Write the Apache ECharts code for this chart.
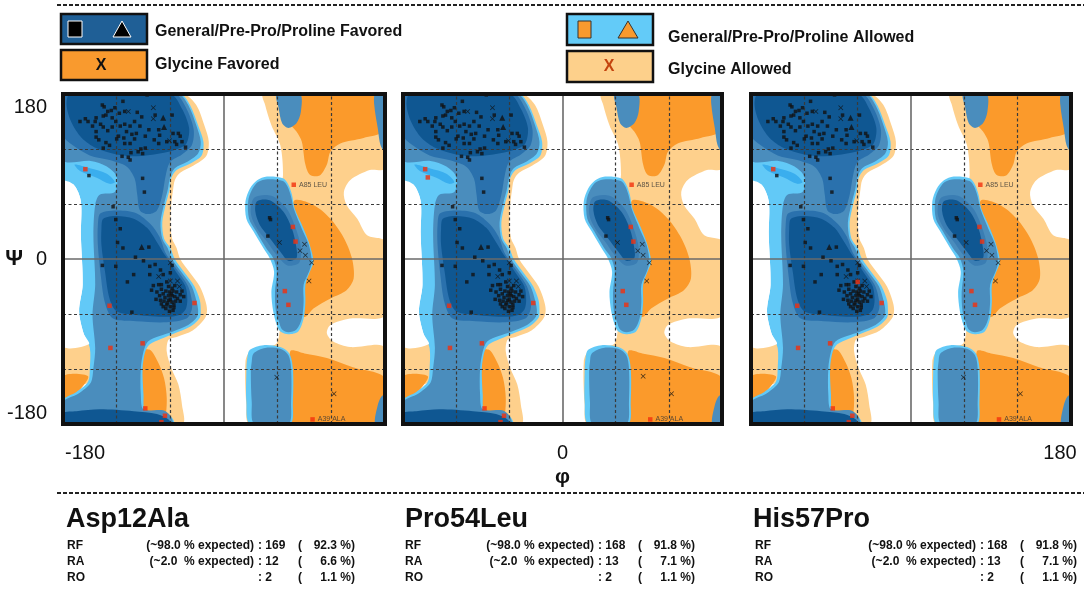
<!DOCTYPE html>
<html><head><meta charset="utf-8">
<script src="https://cdn.jsdelivr.net/npm/echarts@6/dist/echarts.min.js"></script>
<style>html,body{margin:0;padding:0;background:#fff}#c{width:1084px;height:589px}</style>
</head><body><div id="c"></div>
<script>
// ---------------- DATA (phi, psi in degrees) ----------------
const panelNames = ['Asp12Ala', 'Pro54Leu', 'His57Pro'];
const psiTickLabels = { '180': '180', '0': '0', '-180': '-180' };
const phiTickLabels = [{ '-180': '-180' }, { '0': '0' }, { '180': '180' }];

// Contour regions (shared by the three plots)
const glyAllowedRight = [[44,180],[180,180],[180,99],[163,97],[141,86],[134,73],[137,59],[149,44],[160,26],[180,19],[180,-61],[141,-65],[119,-72],[115,-81],[122,-90],[141,-96],[180,-97],[180,-180],[29,-180],[25,-159],[24,-112],[29,-101],[44,-96],[59,-92],[63,-65],[66,8],[63,73],[66,92],[63,124],[53,146],[46,168]];
const glyAllowedLeft = [[-44,180],[-31,168],[-22,146],[-17,128],[-20,112],[-34,102],[-49,94],[-55,86],[-57,75],[-59,60],[-60,40],[-58,22],[-53,12],[-49,0],[-38,-15],[-27,-30],[-21,-45],[-19,-55],[-21,-64],[-35,-78],[-53,-85],[-62,-88],[-64,-101],[-59,-119],[-51,-137],[-47,-159],[-46,-180],[-80,-180],[-85,-140],[-90,-100],[-70,-84],[-45,-72],[-35,-55],[-40,-35],[-55,-12],[-68,10],[-75,40],[-70,75],[-62,95],[-40,108],[-33,130],[-38,150],[-48,170],[-56,180]];
const glyAllowedBottomLeft = [[-180,-94],[-150,-92],[-147,-132],[-180,-136]];
const glyFavoredBottomLeft = [[-180,-128],[-152,-128],[-164,-146],[-180,-158]];
const glyFavoredBottomMid = [[-94,-101],[-83,-99],[-74,-112],[-67,-130],[-64,-152],[-66,-174],[-72,-180],[-90,-180],[-95,-137]];
const glyFavoredRightTop = [[68,180],[176,180],[176,139],[156,132],[130,126],[119,117],[115,103],[107,91],[96,92],[91,103],[87,128],[81,139],[72,150],[68,168]];
const glyFavoredRightMid = [[78,63],[100,59],[119,44],[134,23],[143,1],[145,-21],[137,-34],[119,-43],[100,-54],[91,-63],[78,-61],[74,8]];
const glyFavoredRightBottom = [[74,-101],[90,-103],[115,-108],[144,-118],[180,-130],[180,-180],[74,-180]];

const genAllowedLeft = [[-180,180],[-49,180],[-38,168],[-29,146],[-23,128],[-25,113],[-38,104],[-53,97],[-59,88],[-61,75],[-65,60],[-69,40],[-67,22],[-60,12],[-55,0],[-44,-15],[-33,-30],[-27,-45],[-26,-55],[-27,-64],[-38,-74],[-55,-81],[-70,-87],[-83,-93],[-88,-101],[-91,-119],[-90,-148],[-88,-165],[-68,-167],[-59,-172],[-56,-180],[-180,-180],[-180,-154],[-165,-145],[-152,-134],[-150,-119],[-150,-97],[-157,-81],[-162,-57],[-158,-28],[-160,26],[-160,63],[-168,81],[-180,84]];
const disallowedLeft = [[-180,84],[-168,81],[-160,63],[-160,26],[-158,-28],[-162,-57],[-157,-81],[-151,-93],[-180,-94]];
const genAllowedBright = [[-167,103],[-150,99],[-131,93],[-122,84],[-128,82],[-143,89],[-161,96]];
const genAllowedRight = [[48,90],[66,88],[72,81],[76,70],[79,55],[89,33],[96,15],[100,-3],[96,-14],[91,-28],[91,-47],[89,-65],[83,-79],[72,-82],[63,-79],[59,-72],[55,-57],[53,-36],[56,-14],[51,1],[44,12],[33,30],[25,44],[24,63],[29,77],[37,86]];
const genAllowedRightBottom = [[29,-99],[44,-94],[63,-96],[73,-103],[77,-119],[77,-156],[74,-180],[29,-180],[25,-156],[25,-123],[26,-108]];

const genMidLeft = [[-180,180],[-51,180],[-40,168],[-31,146],[-26,128],[-29,115],[-41,106],[-55,99],[-60,90],[-63,75],[-67,60],[-71,40],[-69,22],[-63,12],[-58,0],[-47,-15],[-36,-30],[-31,-45],[-29,-55],[-30,-63],[-40,-72],[-57,-79],[-72,-84],[-85,-90],[-90,-101],[-93,-119],[-93,-148],[-90,-164],[-68,-165],[-60,-171],[-58,-180],[-180,-180],[-180,-156],[-163,-147],[-149,-135],[-146,-119],[-144,-97],[-147,-61],[-144,-28],[-146,26],[-144,59],[-139,70],[-122,73],[-120,90],[-131,101],[-149,107],[-180,108]];
const genMidRight = [[49,87],[66,85],[71,79],[75,68],[78,55],[87,33],[95,15],[98,-3],[95,-14],[89,-28],[89,-47],[87,-65],[81,-77],[72,-80],[65,-77],[62,-70],[58,-57],[57,-36],[59,-14],[55,1],[47,12],[36,30],[28,44],[27,63],[31,75],[38,84]];
const genMidRightBottom = [[33,-103],[46,-97],[63,-98],[72,-105],[75,-119],[75,-156],[72,-180],[34,-180],[31,-156],[30,-123],[31,-112]];
const genMidTopBlob = [[59,180],[85,180],[86,161],[81,148],[72,143],[65,148],[61,165]];
const genMidEdgeTop = [[169,180],[180,180],[180,117],[175,124],[172,142],[168,168]];
const genMidEdgeBottom = [[180,-148],[180,-180],[169,-180],[172,-159],[176,-150]];

const genCoreLeftTop = [[-180,180],[-55,180],[-43,166],[-34,142],[-36,124],[-47,114],[-60,106],[-65,92],[-69,70],[-75,53],[-85,49],[-94,53],[-97,70],[-100,88],[-109,101],[-128,108],[-150,113],[-169,124],[-180,135]];
const genCoreLeftAlpha = [[-138,50],[-118,53],[-98,50],[-82,38],[-72,24],[-66,8],[-61,0],[-50,-15],[-40,-30],[-36,-45],[-36,-55],[-42,-65],[-64,-69],[-98,-68],[-124,-65],[-133,-48],[-138,-16],[-141,15],[-141,37]];
const genCoreRight = [[34,67],[53,69],[70,55],[80,34],[86,12],[84,-4],[71,-7],[59,4],[48,19],[37,33],[30,50]];

const genFavLeftTop = [[-172,180],[-60,180],[-47,164],[-39,143],[-42,126],[-52,120],[-72,115],[-98,112],[-120,114],[-143,121],[-159,132],[-171,150],[-176,168]];
const genFavLeftAlpha = [[-135,44],[-120,47],[-101,44],[-86,34],[-76,20],[-66,4],[-63,0],[-53,-15],[-43,-30],[-41,-45],[-43,-55],[-50,-61],[-64,-63],[-98,-61],[-120,-57],[-128,-43],[-133,-14],[-137,15],[-137,33]];
const genFavLeftBottom = [[-180,-180],[-180,-168],[-165,-166],[-139,-164],[-101,-166],[-75,-169],[-62,-175],[-60,-180]];
const genFavRight = [[37,63],[51,64],[66,52],[76,33],[81,12],[81,1],[72,-2],[63,8],[51,23],[40,37],[35,52]];

// Residues
const favoredCommon = [[-86,179],[-113,172],[-136,168],[-134,166],[-130,161],[-126,162],[-132,157],[-135,156],[-125,154],[-117,159],[-111,161],[-97,160],[-77,157],[-58,157],[-92,155],[-161,150],[-155,153],[-152,150],[-143,154],[-144,150],[-147,145],[-138,147],[-135,144],[-130,140],[-125,144],[-121,150],[-116,145],[-111,147],[-105,145],[-94,145],[-143,139],[-143,133],[-118,134],[-120,131],[-109,139],[-103,136],[-98,137],[-112,132],[-84,141],[-73,141],[-72,135],[-57,137],[-51,137],[-49,134],[-55,128],[-47,128],[-53,125],[-132,127],[-128,124],[-111,126],[-105,126],[-100,131],[-78,130],[-73,126],[-93,120],[-91,115],[-96,117],[-88,121],[-114,112],[-107,111],[-104,116],[-105,108],[-135,121],[-43,122],[-122,165],[-100,150],[-88,134],[-64,128],[-140,130],
[-91,88],[-89,73],[-124,57],[-121,43],[-116,33],
[-119,18],[-113,12],[-84,13],[-99,2],[-136,-7],[-121,-8],[-90,-2],[-83,-8],[-77,-6],[-71,-12],[-58,-7],[-101,-17],[-83,-17],[-68,-17],[-60,-15],[-108,-25],[-79,-29],[-73,-28],[-70,-28],[-64,-25],[-62,-30],[-58,-32],[-55,-29],[-81,-34],[-65,-35],[-61,-36],[-57,-35],[-53,-36],[-68,-38],[-62,-40],[-58,-40],[-55,-41],[-49,-39],[-45,-41],[-76,-44],[-71,-45],[-67,-46],[-62,-45],[-58,-47],[-54,-46],[-49,-46],[-70,-49],[-64,-50],[-60,-52],[-56,-50],[-65,-54],[-57,-56],[-103,-58],[-66,-42],[-60,-44],[-52,-43],[-63,-48],[-68,-52],[-59,-38],[-72,-40],[-75,-36],[-56,-53],[-61,-57],[-70,-33],[-47,-35],
[51,45],[52,43],[49,25]];
const glycineCommon = [[-107,161],[-79,165],[-79,153],[-61,129],[-60,-4],[-73,-19],[-60,-24],[-52,-24],[-50,-30],[62,18],[90,16],[85,9],[91,4],[98,-4],[95,-24],[123,-147]];
const prolineCommon = [[-68,154],[-67,144],[-92,13]];
const allowedCommon = [[-155,98],[-128,-51],[-33,-48],[-127,-97],[-91,-92],[-88,-163],[-66,-171],[-70,-178],[77,35],[80,19],[68,-35],[72,-50]];
const outlierPoints = [[78,81],[99,-175]];
const outlierLabels = ['A85 LEU', 'A39 ALA'];

const favoredExtra = [[[-151,91]], [], [[-151,91]]];
const glycineExtra = [[[59,-129]], [[91,-128]], [[59,-129]]];
const allowedExtra = [[], [[-152,89]], [[-60,-25]]];

// Statistics
const countRF = ['169', '168', '168'];
const pctRF = ['92.3 %', '91.8 %', '91.8 %'];
const countRA = ['12', '13', '13'];
const pctRA = ['6.6 %', '7.1 %', '7.1 %'];
const countRO = ['2', '2', '2'];
const pctRO = ['1.1 %', '1.1 %', '1.1 %'];

// ---------------- STYLE ----------------
const COL = {
  none: '#ffffff', glyAllowed: '#fed08c', glyFav: '#fb9a2b', genAllowed: '#62c9f7', bright: '#3aaeee',
  mid: '#4a8dbd', core: '#2a71ad', coreRight: '#3a7db3', fav: '#0f5792', red: '#f2300c'
};
const FONT = '"Liberation Sans", Arial, sans-serif';
const layers = [
  [glyAllowedRight, COL.glyAllowed], [glyAllowedLeft, COL.glyAllowed], [glyAllowedBottomLeft, COL.glyAllowed],
  [glyFavoredBottomLeft, COL.glyFav], [glyFavoredBottomMid, COL.glyFav], [glyFavoredRightTop, COL.glyFav],
  [glyFavoredRightMid, COL.glyFav], [glyFavoredRightBottom, COL.glyFav],
  [genAllowedLeft, COL.genAllowed], [genAllowedRight, COL.genAllowed], [genAllowedRightBottom, COL.genAllowed],
  [disallowedLeft, COL.none],
  [genAllowedBright, COL.bright],
  [genMidLeft, COL.mid], [genMidRight, COL.mid], [genMidRightBottom, COL.mid], [genMidTopBlob, COL.mid],
  [genMidEdgeTop, COL.mid], [genMidEdgeBottom, COL.mid],
  [genCoreLeftTop, COL.core], [genCoreLeftAlpha, COL.core], [genCoreRight, COL.coreRight],
  [genFavLeftTop, COL.fav], [genFavLeftAlpha, COL.fav], [genFavLeftBottom, COL.fav], [genFavRight, COL.fav]
];
const grids = [
  { left: 63, top: 94, width: 322, height: 330 },
  { left: 403, top: 94, width: 319, height: 330 },
  { left: 751, top: 94, width: 320, height: 330 }
];
const X_PATH = 'path://M0,1L1,0L5,4L9,0L10,1L6,5L10,9L9,10L5,6L1,10L0,9L4,5Z';
const dashStyle = { type: [3, 2.5], color: '#3a3a3a', width: 1.2 };
const zeroStyle = { type: 'solid', color: '#6a6a6a', width: 1.6 };

const chart = echarts.init(document.getElementById('c'), null, { renderer: 'canvas' });
const series = [], xAxes = [], yAxes = [];

for (let i = 0; i < 3; i++) {
  xAxes.push({
    gridIndex: i, type: 'value', min: -180, max: 180, interval: 60,
    splitLine: { show: false }, axisLine: { show: false }, axisTick: { show: false },
    name: i === 1 ? 'φ' : '', nameLocation: 'middle', nameGap: 43, nameMoveOverlap: false,
    nameTextStyle: { fontSize: 21, fontWeight: 'bold', color: '#111', fontFamily: FONT },
    axisLabel: {
      margin: 19, color: '#111', fontSize: 20, fontFamily: FONT,
      formatter: v => { const t = phiTickLabels[i][String(v)]; if (!t) return ''; return i === 0 ? '{l|' + t + '}' : (i === 2 ? '{r|' + t + '}' : t); },
      rich: { l: { padding: [0, 0, 0, 44], fontSize: 20, color: '#111', fontFamily: FONT },
              r: { padding: [0, 22, 0, 0], fontSize: 20, color: '#111', fontFamily: FONT } }
    }
  });
  yAxes.push({
    gridIndex: i, type: 'value', min: -180, max: 180, interval: 60,
    splitLine: { show: false }, axisLine: { show: false }, axisTick: { show: false },
    name: i === 0 ? 'Ψ' : '', nameLocation: 'middle', nameGap: 40, nameRotate: 0, nameMoveOverlap: false,
    nameTextStyle: { fontSize: 22, fontWeight: 'bold', color: '#111', fontFamily: FONT },
    axisLabel: {
      show: i === 0, margin: 16, color: '#111', fontSize: 20, fontFamily: FONT,
      formatter: v => { const t = psiTickLabels[String(v)]; if (!t) return ''; if (v === 180) return '{t|' + t + '}'; if (v === -180) return '{b|' + t + '}'; return t; },
      rich: { t: { padding: [26, 0, 0, 0], fontSize: 20, color: '#111', fontFamily: FONT },
              b: { padding: [0, 0, 22, 0], fontSize: 20, color: '#111', fontFamily: FONT } }
    }
  });
  const ml = [];
  [-120, -60, 60, 120].forEach(v => { ml.push({ xAxis: v, lineStyle: dashStyle }); ml.push({ yAxis: v, lineStyle: dashStyle }); });
  ml.push({ xAxis: 0, lineStyle: zeroStyle }); ml.push({ yAxis: 0, lineStyle: zeroStyle });
  series.push({
    type: 'custom', xAxisIndex: i, yAxisIndex: i, z: 1, silent: true, animation: false,
    data: layers.map(() => [0, 0]),
    renderItem: (params, api) => {
      const L = layers[params.dataIndex];
      const cs = params.coordSys;
      return {
        type: 'polygon',
        shape: { points: L[0].map(p => api.coord(p)), smooth: 0.3,
                 smoothConstraint: [[cs.x, cs.y], [cs.x + cs.width, cs.y + cs.height]] },
        style: { fill: L[1] }
      };
    },
    markLine: { silent: true, symbol: ['none', 'none'], label: { show: false }, animation: false, data: ml }
  });
  const base = { xAxisIndex: i, yAxisIndex: i, z: 6, silent: true, animation: false };
  series.push(Object.assign({}, base, { type: 'scatter', symbol: 'rect', symbolSize: 3.5,
    itemStyle: { color: '#111' }, data: favoredCommon.concat(favoredExtra[i]) }));
  series.push(Object.assign({}, base, { type: 'scatter', symbol: X_PATH, symbolSize: 5,
    itemStyle: { color: '#111' }, data: glycineCommon.concat(glycineExtra[i]) }));
  series.push(Object.assign({}, base, { type: 'scatter', symbol: 'triangle', symbolSize: 6,
    itemStyle: { color: '#111' }, data: prolineCommon }));
  series.push(Object.assign({}, base, { type: 'scatter', symbol: 'rect', symbolSize: 4.5,
    itemStyle: { color: COL.red }, data: allowedCommon.concat(allowedExtra[i]) }));
  series.push(Object.assign({}, base, { type: 'scatter', symbol: 'rect', symbolSize: 4.5,
    itemStyle: { color: COL.red }, data: outlierPoints,
    label: { show: true, position: 'right', distance: 3, fontSize: 7, color: '#333', fontFamily: FONT,
             formatter: p => outlierLabels[p.dataIndex] } }));
}

// ---------------- GRAPHIC (legend + statistics) ----------------
function txt(x, y, s, font, fill, align) {
  return { type: 'text', x: x, y: y, z: 10, silent: true,
    style: { text: s, font: font, fill: fill || '#111', textAlign: align || 'left', align: align || 'left',
             textVerticalAlign: 'middle', verticalAlign: 'middle' } };
}
const G = [];
G.push({ type: 'line', silent: true, shape: { x1: 57, y1: 5, x2: 1084, y2: 5 }, style: { stroke: '#222', lineWidth: 2, lineDash: [4, 2] } });
G.push({ type: 'line', silent: true, shape: { x1: 57, y1: 493, x2: 1084, y2: 493 }, style: { stroke: '#222', lineWidth: 2, lineDash: [4, 2] } });
G.push({ type: 'rect', silent: true, shape: { x: 61, y: 14, width: 86, height: 30 }, style: { fill: '#1f5f96', stroke: '#111', lineWidth: 2.5 } });
G.push({ type: 'rect', silent: true, shape: { x: 68, y: 21, width: 14, height: 16 }, style: { fill: '#000', stroke: '#fff', lineWidth: 1 } });
G.push({ type: 'polygon', silent: true, shape: { points: [[113, 37], [122, 21], [131, 37]] }, style: { fill: '#000', stroke: '#fff', lineWidth: 1 } });
G.push(txt(155, 32, 'General/Pre-Pro/Proline Favored', 'bold 16px ' + FONT));
G.push({ type: 'rect', silent: true, shape: { x: 61, y: 50, width: 86, height: 30 }, style: { fill: '#f99a2e', stroke: '#111', lineWidth: 2.5 } });
G.push(txt(101, 66, 'X', 'bold 16px ' + FONT, '#111', 'center'));
G.push(txt(155, 65, 'Glycine Favored', 'bold 16px ' + FONT));
G.push({ type: 'rect', silent: true, shape: { x: 567, y: 14, width: 86, height: 31 }, style: { fill: '#63cbf8', stroke: '#111', lineWidth: 2.5 } });
G.push({ type: 'rect', silent: true, shape: { x: 578, y: 21, width: 13, height: 17 }, style: { fill: '#f99a2e', stroke: '#333', lineWidth: 1 } });
G.push({ type: 'polygon', silent: true, shape: { points: [[618, 38], [628, 21], [638, 38]] }, style: { fill: '#f99a2e', stroke: '#333', lineWidth: 1 } });
G.push(txt(668, 38, 'General/Pre-Pro/Proline Allowed', 'bold 16px ' + FONT));
G.push({ type: 'rect', silent: true, shape: { x: 567, y: 51, width: 86, height: 31 }, style: { fill: '#fdd08b', stroke: '#111', lineWidth: 2.5 } });
G.push(txt(609, 67, 'X', 'bold 16px ' + FONT, '#c4440e', 'center'));
G.push(txt(668, 70, 'Glycine Allowed', 'bold 16px ' + FONT));
const titleX = [66, 405, 753];
const rfX = [67, 405, 755];
const endX = [355, 695, 1077];
const SF = 'bold 12px ' + FONT;
for (let i = 0; i < 3; i++) {
  G.push(txt(titleX[i], 520, panelNames[i], 'bold 27px ' + FONT));
  const rows = [
    ['RF', '(~98.0 % expected)', ': ' + countRF[i], pctRF[i] + ')'],
    ['RA', '(~2.0  % expected)', ': ' + countRA[i], pctRA[i] + ')'],
    ['RO', '', ': ' + countRO[i], pctRO[i] + ')']
  ];
  const ys = [546, 562, 578];
  rows.forEach((r, k) => {
    G.push(txt(rfX[i], ys[k], r[0], SF));
    if (r[1]) G.push(txt(endX[i] - 101, ys[k], r[1], SF, '#111', 'right'));
    G.push(txt(endX[i] - 97, ys[k], r[2], SF));
    G.push(txt(endX[i] - 57, ys[k], '(', SF));
    G.push(txt(endX[i], ys[k], r[3], SF, '#111', 'right'));
  });
}

chart.setOption({
  animation: false,
  backgroundColor: '#fff',
  textStyle: { fontFamily: FONT },
  grid: grids.map(g => Object.assign({ show: true, z: 10, backgroundColor: 'transparent', borderColor: '#111', borderWidth: 4, outerBoundsMode: 'none', containLabel: false }, g)),
  xAxis: xAxes,
  yAxis: yAxes,
  series: series,
  graphic: { elements: G }
});
</script></body></html>
